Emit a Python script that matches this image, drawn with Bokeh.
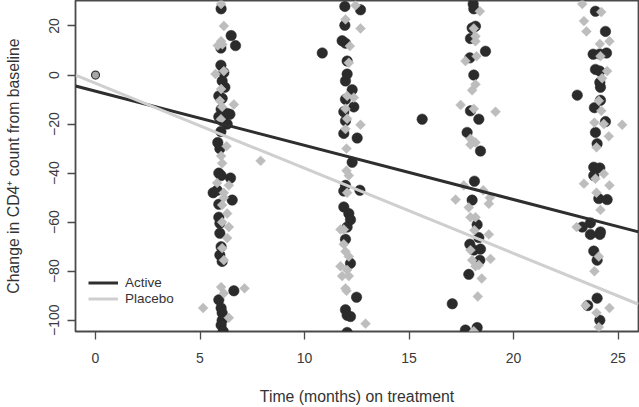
import numpy as np
from bokeh.plotting import figure
from bokeh.models import FixedTicker, Range1d, Legend, LegendItem
from bokeh.embed import file_html
from bokeh.resources import INLINE

# ---- data ----
baseline_t = [0.0]
baseline_cd4 = [0.0]

active_t = [6.01, 6.49, 6.70, 6.00, 6.00, 6.14, 6.06, 6.19, 5.90, 6.06, 6.01, 6.30, 6.43, 5.90, 6.06,
            6.30, 6.00, 5.85, 5.95, 5.90, 6.01, 6.46, 5.63, 5.82, 6.54, 5.90, 5.90, 5.95, 5.95, 6.01,
            5.95, 6.06, 5.90, 6.62, 6.01, 6.06, 6.06, 6.01, 6.11,
            11.93, 12.68, 11.93, 11.80, 11.96, 10.85, 12.04, 12.04, 11.96, 12.28, 11.96, 12.36, 11.88,
            11.96, 11.88, 12.52, 12.28, 11.96, 12.65, 11.88, 11.88, 12.12, 12.20, 12.04, 11.96, 12.20,
            12.49, 11.96, 12.04, 12.20, 12.04,
            18.07, 18.10, 18.18, 18.02, 17.94, 18.66, 17.91, 18.10, 15.63, 17.94, 18.34, 17.78, 18.42,
            18.13, 18.02, 18.26, 18.34, 17.91, 18.10, 18.42, 18.39, 17.86, 17.07, 17.70, 18.26,
            23.92, 24.40, 23.81, 24.13, 24.45, 23.92, 24.13, 24.13, 24.16, 23.05, 24.16, 23.87, 24.40,
            23.92, 24.00, 23.84, 24.13, 23.84, 24.08, 24.48, 23.68, 23.29, 23.68, 24.13, 24.16, 23.84,
            24.00, 24.00, 23.55, 24.13]
active_cd4 = [27, 16.1, 12, 11, 4, 1, -2.4, -5, -8.5, -9.5, -14, -15.7, -16, -17, -18.7,
              -20, -23, -27.5, -30, -40, -41, -42, -48, -47, -51, -52.7, -58, -60.5, -64.5, -70,
              -73.4, -76, -91.7, -88, -95, -97, -100, -102, -104.5,
              28, 26.6, 20.3, 14, 13, 9, 5.7, 0.4, -2.4, -6, -9.9, -13, -15,
              -18.7, -23.8, -25.7, -35.6, -45, -47, -47.3, -53.8, -56.5, -59, -62, -67, -76.8,
              -90.6, -95.7, -98, -98.5, -105,
              29, 27, 19.9, 19.2, 14.9, 9.7, 7, 0, -18, -14.6, -18, -23.4, -31,
              -43.3, -51, -61, -66.3, -69, -71.4, -71, -75.5, -81.3, -93.3, -104, -103,
              26, 17.8, 8.5, 8.6, 9, 2.3, 1.6, -3, -5, -8.2, -10.3, -13.3, -19,
              -23.4, -28, -37.6, -37.9, -41, -50.4, -50.8, -60.3, -62, -65, -65, -64, -71.8,
              -75.5, -91, -94, -100]

placebo_t = [6.01, 6.14, 6.01, 5.85, 6.07, 5.74, 6.14, 6.01, 5.95, 6.62, 6.06, 6.00, 6.27, 6.01,
             6.06, 7.90, 5.82, 6.38, 6.14, 6.14, 6.06, 6.30, 6.06, 6.38, 6.30, 6.06, 6.14, 6.01,
             6.14, 7.13, 5.15, 6.38,
             12.44, 11.96, 12.68, 12.17, 12.12, 12.04, 12.36, 11.96, 12.04, 11.96, 12.68, 12.01,
             12.01, 12.12, 12.04, 11.88, 11.72, 11.88, 11.96, 12.12, 11.72, 12.04, 11.80, 12.12,
             11.96, 12.01, 12.92,
             18.39, 18.10, 18.18, 18.18, 17.70, 18.23, 18.18, 18.02, 17.47, 18.10, 19.14, 17.94,
             18.18, 17.94, 17.62, 18.55, 17.23, 18.87, 18.82, 17.86, 17.94, 18.18, 18.13, 18.82,
             17.94, 18.90, 18.02, 18.18, 18.34, 18.48, 18.29, 18.10,
             23.29, 24.20, 23.37, 23.49, 24.13, 24.59, 24.16, 24.48, 24.24, 24.08, 24.20, 23.87,
             24.32, 25.20, 24.56, 23.97, 24.32, 23.92, 23.37, 24.59, 23.97, 24.16, 23.02, 24.08,
             23.87, 23.45, 23.97, 24.59, 24.08]
placebo_cd4 = [29, 20, 13.8, 12, 12.5, 0.4, 1.6, -5.7, -10.5, -12, -13, -18, -29, -33,
               -36, -35, -44, -45, -50, -48, -53, -56.5, -60, -62, -66.5, -70.6, -75.5, -86.5,
               -89, -87, -95, -99,
               28.4, 22.7, 19, 11.8, 5, -8.5, -9.2, -13.8, -17.8, -22, -20.3, -30,
               -39, -41, -48, -63, -63, -69, -72, -74, -78, -79.5, -82, -82,
               -87, -88, -101.4,
               26, 19, 15.8, 13.8, 5.7, 7.7, -3.8, -6.2, -12.2, -13.8, -15, -26,
               -27.5, -28.4, -45, -47, -50.8, -50, -52.5, -54, -58, -58, -63.3, -65,
               -71.4, -75, -75.5, -78, -77.5, -83, -90.3, -104.5,
               29, 25.7, 22, 17.8, 12.7, 13.8, 7.7, 1.6, -1.3, -10.5, -14.6, -19.4,
               -20, -20.3, -25, -29.5, -40.3, -42.3, -44.3, -45, -48, -55, -62, -74,
               -80, -94, -97, -95, -102.8]

arms = ["Active", "Placebo"]
fit_intercept = [-6.57, -3.33]
fit_slope = [-2.21, -3.47]

x_ticks = [0, 5, 10, 15, 20, 25]
y_ticks = [-100, -80, -60, -40, -20, 0, 20]
y_tick_labels = ["\u2212100", "\u221280", "\u221260", "\u221240", "\u221220", "0", "20"]

# ---- figure ----
x_lo, x_hi = -0.957, 25.98
y_lo, y_hi = -104.6, 30.4

p = figure(width=639, height=407, output_backend="svg", toolbar_location=None,
           x_range=Range1d(x_lo, x_hi), y_range=Range1d(y_lo, y_hi),
           min_border_left=75, min_border_right=1, min_border_top=0, min_border_bottom=74)
p.grid.visible = False
p.outline_line_color = "#4a4a4a"
p.outline_line_width = 1.8
p.background_fill_color = "white"
p.border_fill_color = "white"

FONT = "Liberation Sans"
for ax in (p.xaxis[0], p.yaxis[0]):
    ax.axis_line_color = None
    ax.major_tick_line_color = "#4a4a4a"
    ax.major_tick_line_width = 1.3
    ax.major_tick_out = 8
    ax.major_tick_in = 0
    ax.minor_tick_line_color = None
    ax.major_label_text_font = FONT
    ax.major_label_text_font_size = "14px"
    ax.major_label_text_color = "#3a3a3a"
    ax.axis_label_text_font = FONT
    ax.axis_label_text_font_size = "15.8px"
    ax.axis_label_text_font_style = "normal"
    ax.axis_label_text_color = "#333333"

p.xaxis.ticker = FixedTicker(ticks=x_ticks)
p.yaxis.ticker = FixedTicker(ticks=y_ticks)
p.yaxis.major_label_overrides = {t: s for t, s in zip(y_ticks, y_tick_labels)}
p.yaxis.major_label_orientation = "vertical"
p.xaxis.axis_label = "Time (months) on treatment"
p.yaxis.axis_label = "Change in CD4\u207a count from baseline"
p.xaxis.major_label_standoff = 13
p.xaxis.axis_label_standoff = 22
p.yaxis.major_label_standoff = 8
p.yaxis.axis_label_standoff = 25

# points
p.scatter(active_t, active_cd4, marker="circle", size=10.5,
          fill_color="#2b2b2b", line_color="#2b2b2b", line_width=0.5)
p.scatter(placebo_t, placebo_cd4, marker="square", angle=np.pi / 4, size=7,
          fill_color="#bdbdbd", line_color="#bdbdbd", line_width=0.5)
p.scatter(baseline_t, baseline_cd4, marker="circle", size=8,
          fill_color="#a6a6a6", line_color="#3a3a3a", line_width=1.2)

# fitted lines, one legend entry each (placed separately for exact row spacing)
line_colors = ["#2e2e2e", "#cfcfcf"]
legend_y = [41, 25]
for arm, a, b, c, ly in zip(arms, fit_intercept, fit_slope, line_colors, legend_y):
    xs = [x_lo, x_hi]
    ys = [a + b * x for x in xs]
    r = p.line(xs, ys, line_color=c, line_width=3)
    lg = Legend(items=[LegendItem(label=arm, renderers=[r])], location=(13, ly))
    lg.background_fill_alpha = 0
    lg.border_line_color = None
    lg.label_text_font = FONT
    lg.label_text_font_size = "13.5px"
    lg.label_text_color = "#333333"
    lg.glyph_width = 30
    lg.glyph_height = 13
    lg.label_height = 13
    lg.padding = 5
    lg.margin = 0
    lg.label_standoff = 7
    p.add_layout(lg, "center")

open("out.html", "w").write(file_html(p, INLINE))
